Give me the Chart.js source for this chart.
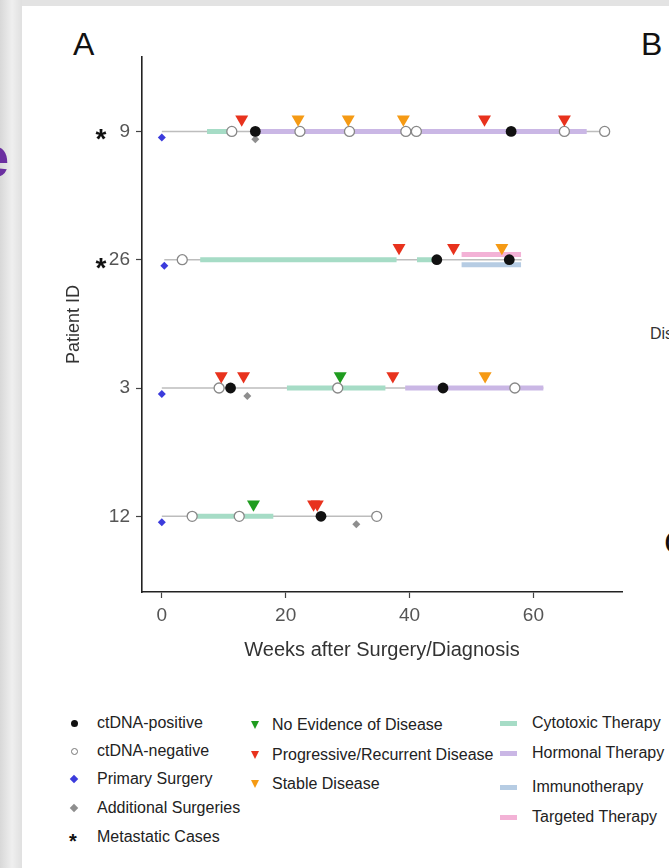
<!DOCTYPE html>
<html>
<head>
<meta charset="utf-8">
<script src="https://cdn.jsdelivr.net/npm/chart.js@4.4.1/dist/chart.umd.min.js"></script>
<style>
  html, body { margin: 0; padding: 0; }
  body {
    width: 669px; height: 868px; overflow: hidden; position: relative;
    background: #e3e3e3; font-family: "Liberation Sans", Arial, sans-serif;
  }
  #card { position: absolute; left: 22px; top: 6px; width: 700px; height: 900px; background: #fff; }
  #strip {
    position: absolute; left: 0; top: 0; width: 22px; height: 868px;
    background: linear-gradient(90deg, #d8d8d8, #efefef 55%, #e0e0e0);
  }
  #wrap { position: absolute; left: 0; top: 0; width: 669px; height: 680px; }
  .txt { position: absolute; white-space: nowrap; line-height: 1; }
  .leg { position: absolute; white-space: nowrap; color: #222; font-size: 16px; line-height: 20px; }
  .mk { position: absolute; }
</style>
</head>
<body>
<div id="strip"></div>
<div id="card"></div>
<div class="txt" style="left:-23px; top:128px; font-size:58px; font-weight:bold; color:#6b2fa0;">e</div>
<div class="txt" style="left:73px; top:28px; font-size:32px; color:#111;">A</div>
<div class="txt" style="left:641px; top:28px; font-size:32px; color:#111;">B</div>
<div class="txt" style="left:650px; top:326px; font-size:16px; color:#333;">Dis</div>
<div class="txt" style="left:664px; top:525px; font-size:34px; color:#111;">C</div>
<div id="wrap"><canvas id="timeline"></canvas></div>
<div id="legend"></div>

<script>
// =========================
// DATA
// =========================

const patients = ["9", "26", "3", "12"];
const rowY = [4, 3, 2, 1];
const metastatic = [true, true, false, false];
const xTicks = [0, 20, 40, 60];

// follow-up line per patient [start, end] in weeks
const followUp = [[0, 71.5], [0.4, 58.1], [0, 61.6], [0, 34.7]];

// therapy periods per patient
const cytotoxic = [[[7.3, 10.7]], [[6.2, 37.9], [41.2, 44.4]], [[20.2, 36.1]], [[5.4, 18.0]]];
const hormonal = [[[15.1, 68.6]], [], [[39.3, 61.6]], []];
const immuno = [[], [[48.4, 58.0]], [], []];
const targeted = [[], [[48.4, 58.0]], [], []];

// events per patient (weeks)
const ctdnaPos = [[15.1, 56.4], [44.4, 56.1], [11.1, 45.4], [25.7]];
const ctdnaNeg = [[11.3, 22.3, 30.3, 39.4, 41.1, 65.0, 71.5], [3.3], [9.25, 28.4, 57.0], [4.9, 12.5, 34.7]];
const primarySurgery = [[0], [0.4], [0], [0]];
const extraSurgery = [[15.1], [], [13.8], [31.4]];
const noEvidence = [[], [], [28.8], [14.8]];
const progressive = [[12.9, 52.1, 65.0], [38.3, 47.1], [9.6, 13.2, 37.3], [24.5, 25.1]];
const stable = [[22.0, 30.1, 39.0], [54.9], [52.2], []];

// legend
const legendCol1 = ["ctDNA-positive", "ctDNA-negative", "Primary Surgery", "Additional Surgeries", "Metastatic Cases"];
const legendCol2 = ["No Evidence of Disease", "Progressive/Recurrent Disease", "Stable Disease"];
const legendCol3 = ["Cytotoxic Therapy", "Hormonal Therapy", "Immunotherapy", "Targeted Therapy"];

// =========================
// COLORS / SHIFTS
// =========================

const C = {
  line: "#bdbdbd",
  cyto: "#a6dcc6",
  horm: "#cab7e5",
  immu: "#b6cce3",
  targ: "#f3b2d6",
  pos: "#111111",
  neg: "#888888",
  blue: "#3b3bdc",
  gray: "#8e8e8e",
  green: "#1f9c1f",
  red: "#e8321d",
  orange: "#f59a14",
};

const TRI_UP = 0.094;    // triangles sit above the line
const DIA_DOWN = 0.047;  // primary surgery diamond under the line
const GRAY_DOWN = 0.062; // additional surgery diamond under the line
const BAR_SHIFT = 0.04;  // stacked therapy bars

function points(list, shift) {
  return list.flatMap((xs, i) => xs.map((x) => ({ x: x, y: rowY[i] + (shift || 0) })));
}

function segments(list, shift) {
  return list.flatMap((segs, i) =>
    segs.flatMap(([a, b]) => [
      { x: a, y: rowY[i] + (shift || 0) },
      { x: b, y: rowY[i] + (shift || 0) },
      { x: b, y: null },
    ])
  );
}

function barSet(list, color, shift) {
  return {
    data: segments(list, shift),
    showLine: true,
    spanGaps: false,
    borderColor: color,
    borderWidth: 5,
    borderCapStyle: "butt",
    pointRadius: 0,
    order: 5,
  };
}

function markSet(data, style, opts) {
  return Object.assign({ data: data, pointStyle: style, showLine: false, borderWidth: 0 }, opts);
}

// =========================
// ASTERISKS FOR METASTATIC CASES
// =========================

const asteriskPlugin = {
  id: "asterisks",
  afterDraw(chart) {
    const ctx = chart.ctx;
    const y = chart.scales.y;
    ctx.save();
    ctx.fillStyle = "#111";
    ctx.font = "bold 28px 'Liberation Sans', Arial, sans-serif";
    ctx.textAlign = "center";
    ctx.textBaseline = "alphabetic";
    metastatic.forEach((m, i) => {
      if (m) ctx.fillText("*", 101, y.getPixelForValue(rowY[i]) + 17);
    });
    ctx.restore();
  },
};

// =========================
// CHART
// =========================

new Chart(document.getElementById("timeline"), {
  type: "scatter",
  data: {
    datasets: [
      markSet(points(progressive, TRI_UP), "triangle", { backgroundColor: C.red, pointRadius: 7.5, rotation: 180, order: 0 }),
      markSet(points(stable, TRI_UP), "triangle", { backgroundColor: C.orange, pointRadius: 7.5, rotation: 180, order: 0 }),
      markSet(points(noEvidence, TRI_UP), "triangle", { backgroundColor: C.green, pointRadius: 7.5, rotation: 180, order: 0 }),
      markSet(points(ctdnaPos), "circle", { backgroundColor: C.pos, pointRadius: 5.4, order: 1 }),
      markSet(points(ctdnaNeg), "circle", { backgroundColor: "#fff", borderColor: C.neg, borderWidth: 1.3, pointRadius: 5, order: 2 }),
      markSet(points(primarySurgery, -DIA_DOWN), "rectRot", { backgroundColor: C.blue, pointRadius: 4, order: 3 }),
      markSet(points(extraSurgery, -GRAY_DOWN), "rectRot", { backgroundColor: C.gray, pointRadius: 4, order: 3 }),
      barSet(cytotoxic, C.cyto, 0),
      barSet(hormonal, C.horm, 0),
      barSet(targeted, C.targ, BAR_SHIFT),
      barSet(immuno, C.immu, -BAR_SHIFT),
      {
        data: segments(followUp.map((r) => [r]), 0),
        showLine: true,
        spanGaps: false,
        borderColor: C.line,
        borderWidth: 1.5,
        pointRadius: 0,
        order: 6,
      },
    ],
  },
  options: {
    responsive: true,
    maintainAspectRatio: false,
    animation: false,
    layout: { padding: { left: 0, top: 57, right: 47, bottom: 18 } },
    plugins: { legend: { display: false }, tooltip: { enabled: false } },
    scales: {
      x: {
        type: "linear",
        min: -3.2,
        max: 74.3,
        afterBuildTicks: (s) => { s.ticks = xTicks.map((v) => ({ value: v })); },
        afterFit: (s) => { s.height = 70; },
        grid: { drawOnChartArea: false, tickLength: 6, color: "#444", tickWidth: 1.2 },
        border: { display: true, color: "#222", width: 1.6 },
        ticks: { padding: 6, color: "#555", maxRotation: 0, autoSkip: false, font: { size: 19, family: "'Liberation Sans', Arial, sans-serif" } },
        title: { display: true, text: "Weeks after Surgery/Diagnosis", color: "#333", padding: 0, font: { size: 20, family: "'Liberation Sans', Arial, sans-serif" } },
      },
      y: {
        type: "linear",
        min: 0.41,
        max: 4.58,
        afterBuildTicks: (s) => { s.ticks = rowY.map((v) => ({ value: v })); },
        afterFit: (s) => { s.width = 142; },
        grid: { drawOnChartArea: false, tickLength: 6, color: "#444", tickWidth: 1.2 },
        border: { display: true, color: "#222", width: 1.6 },
        ticks: {
          padding: 6,
          color: "#555",
          autoSkip: false,
          font: { size: 19, family: "'Liberation Sans', Arial, sans-serif" },
          callback: (v) => patients[rowY.indexOf(v)],
        },
        title: { display: true, text: "Patient ID", color: "#333", padding: { top: 63, bottom: 0 }, font: { size: 18, family: "'Liberation Sans', Arial, sans-serif" } },
      },
    },
  },
  plugins: [asteriskPlugin],
});

// =========================
// LEGEND
// =========================

const legend = document.getElementById("legend");

function addText(text, x, y) {
  const d = document.createElement("div");
  d.className = "leg";
  d.style.left = x + "px";
  d.style.top = (y - 10) + "px";
  d.textContent = text;
  legend.appendChild(d);
}

function addMark(css, x, y, w, h) {
  const d = document.createElement("div");
  d.className = "mk";
  d.style.cssText += css;
  d.style.left = (x - w / 2) + "px";
  d.style.top = (y - h / 2) + "px";
  d.style.width = w + "px";
  d.style.height = h + "px";
  legend.appendChild(d);
}

const col1Y = [723, 751, 779, 808, 837];
legendCol1.forEach((t, i) => addText(t, 97, col1Y[i]));
addMark("background:#111;border-radius:50%;", 74, col1Y[0], 7, 7);
addMark("box-sizing:border-box;border:1px solid #777;border-radius:50%;", 74, col1Y[1], 7, 7);
addMark("background:" + C.blue + ";transform:rotate(45deg);", 74, col1Y[2], 6, 6);
addMark("background:" + C.gray + ";transform:rotate(45deg);", 74, col1Y[3], 6, 6);
const star = document.createElement("div");
star.className = "txt";
star.style.cssText += "left:69px;top:" + (col1Y[4] - 6) + "px;font-size:20px;font-weight:bold;color:#111;";
star.textContent = "*";
legend.appendChild(star);

const col2Y = [725, 755, 784];
const triColors = [C.green, C.red, C.orange];
legendCol2.forEach((t, i) => {
  addText(t, 272, col2Y[i]);
  addMark("width:0;height:0;border-left:4.5px solid transparent;border-right:4.5px solid transparent;border-top:8px solid " + triColors[i] + ";", 251, col2Y[i], 0, 8);
});

const col3Y = [723, 753, 787, 817];
const swatch = [C.cyto, C.horm, C.immu, C.targ];
legendCol3.forEach((t, i) => {
  addText(t, 532, col3Y[i]);
  addMark("background:" + swatch[i] + ";", 508, col3Y[i], 17, 5);
});
</script>
</body>
</html>
